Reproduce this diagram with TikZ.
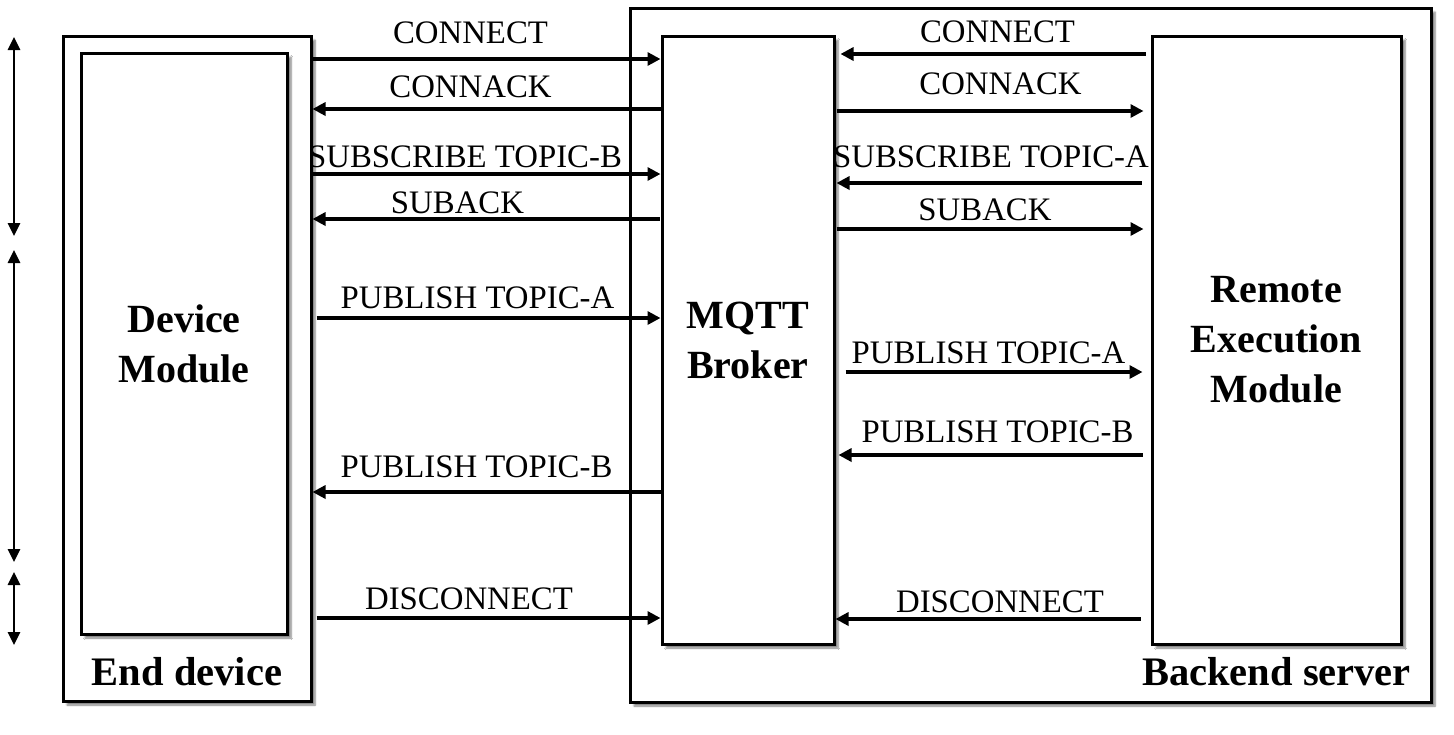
\documentclass[tikz,border=0pt]{standalone}
\usepackage{fontspec}
\setmainfont{Liberation Serif}
\usetikzlibrary{arrows.meta, shadows.blur, positioning}
\tikzset{
  box/.style      = {draw, line width=3pt, fill=white, rectangle, inner sep=0pt,
                     blur shadow={shadow xshift=4pt, shadow yshift=-4pt,
                                  shadow blur steps=6, shadow opacity=50}},
  msgto/.style    = {-{Triangle[length=13pt, width=13pt]}, line width=3.2pt},
  span/.style     = {{Triangle[length=13pt, width=12pt]}-{Triangle[length=13pt, width=12pt]},
                     line width=2.8pt},
  lbl/.style      = {font=\fontsize{32.8}{38}\selectfont, anchor=base, inner sep=0pt},
  blbl/.style     = {font=\fontsize{40}{50}\selectfont\bfseries, align=center},
  tlbl/.style     = {font=\fontsize{40.5}{50}\selectfont\bfseries, anchor=base, inner sep=0pt},
}
\begin{document}
\begin{tikzpicture}[x=1pt, y=-1pt]
  \useasboundingbox (0,0) rectangle (1454,734);
  % containers
  \node[box, minimum width=801pt, minimum height=694pt] (backend) at (1030.5,355) {};
  \node[box, minimum width=248pt, minimum height=665pt] (enddev) at (187,368.5) {};
  \node[tlbl] (enddevlbl) at (187,685) {End device};
  \node[tlbl] (backendlbl) at (1276.5,685) {Backend server};
  % modules
  \node[box, blbl, minimum width=206pt, minimum height=581pt] (devmod) at (184,343.5) {Device\\Module};
  \node[box, blbl, minimum width=172pt, minimum height=608pt] (broker) at (748,340) {MQTT\\Broker};
  \node[box, blbl, minimum width=249pt, minimum height=608pt] (remote) at (1276.5,340) {Remote\\Execution\\Module};
  % phases on the left
  \coordinate (ph0) at (14,37);
  \coordinate (ph1) at (14,236);
  \coordinate (ph2) at (14,250);
  \coordinate (ph3) at (14,562);
  \coordinate (ph4) at (14,572);
  \coordinate (ph5) at (14,645);
  \draw[span] (ph0) -- (ph1);
  \draw[span] (ph2) -- (ph3);
  \draw[span] (ph4) -- (ph5);
  % end device <-> broker
  \foreach \y/\sa in {59/0pt, 174/0pt, 318/4pt, 618/4pt}
    \draw[msgto, shorten <=\sa] (enddev.east |- 0,\y) -- (broker.west |- 0,\y);
  \foreach \y/\sa in {109/0pt, 219/1pt, 492/0pt}
    \draw[msgto, shorten <=\sa] (broker.west |- 0,\y) -- (enddev.east |- 0,\y);
  % broker <-> remote module
  \foreach \y/\sa/\sb in {54/5pt/5pt, 183/9pt/1pt, 455/8pt/3pt, 619/10pt/0pt}
    \draw[msgto, shorten <=\sa, shorten >=\sb] (remote.west |- 0,\y) -- (broker.east |- 0,\y);
  \foreach \y/\sa/\sb in {111/1pt/7pt, 229/1pt/7pt, 372/10pt/8pt}
    \draw[msgto, shorten <=\sa, shorten >=\sb] (broker.east |- 0,\y) -- (remote.west |- 0,\y);
  % message labels
  \foreach \x/\y/\txt [count=\i] in {470.5/43/CONNECT, 470.5/97/CONNACK,
      465/167/SUBSCRIBE TOPIC-B, 457.5/213/SUBACK, 477.5/308/PUBLISH TOPIC-A,
      476.5/477/PUBLISH TOPIC-B, 469/609/DISCONNECT,
      997.5/42/CONNECT, 1000.5/94/CONNACK, 991/167/SUBSCRIBE TOPIC-A,
      985/220/SUBACK, 988.5/363/PUBLISH TOPIC-A, 997.5/442/PUBLISH TOPIC-B,
      1000/612/DISCONNECT}
    \node[lbl] (msg\i) at (\x,\y) {\txt};
\end{tikzpicture}
\end{document}
